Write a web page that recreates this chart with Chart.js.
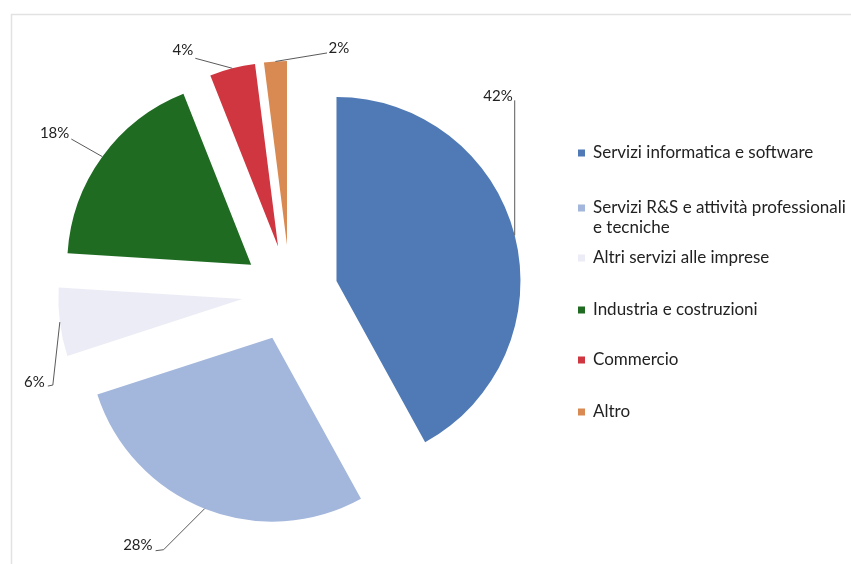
<!DOCTYPE html>
<html>
<head>
<meta charset="utf-8">
<script src="https://cdn.jsdelivr.net/npm/chart.js@4"></script>
<style>
  html, body { margin: 0; padding: 0; background: #ffffff; }
  #wrap { width: 851px; height: 564px; }
</style>
</head>
<body>
<div id="wrap"><canvas id="c" width="851" height="564"></canvas></div>
<script>
// ---- data ----
const categories = [
  'Servizi informatica e software',
  ['Servizi R&S e attività professionali', 'e tecniche'],
  'Altri servizi alle imprese',
  'Industria e costruzioni',
  'Commercio',
  'Altro'
];
const shares = [42, 28, 6, 18, 4, 2];
const sliceColors = ['#4F7AB6', '#A3B6DB', '#ECECF6', '#1F6B22', '#D0363F', '#D98A52'];

// ---- style ----
const EXPLODE = 48;
const TEXT_COLOR = '#222222';
const LINE_COLOR = '#5a5a5a';
const LABEL_FONT = '15px Lato';
const LEGEND_FONT = '17px Lato';
const labelLayout = [
  { path: [[0, -135]], text: [-2, -139], align: 'right' },
  { path: [[-41, 41], [-49, 42]], text: [-52, 36], align: 'right' },
  { path: [[-7, 63], [-12, 64]], text: [-15, 60], align: 'right' },
  { path: [[-31, -17.6]], text: [-33, -23.6], align: 'right' },
  { path: [[-37, -10]], text: [-39, -18], align: 'right' },
  { path: [[51.6, -8.5]], text: [53, -13.5], align: 'left' }
];
const legendBox = { x: 578, textX: 593, size: 7, lineHeight: 20 };
const legendRowsY = [153, 208, 258, 310, 360, 412];

const explodePlugin = {
  id: 'explodePie',
  beforeDraw(chart) {
    const ctx = chart.ctx;
    ctx.save();
    ctx.fillStyle = '#ffffff';
    ctx.fillRect(0, 0, chart.width, chart.height);
    ctx.strokeStyle = '#e2e2e2';
    ctx.lineWidth = 1.5;
    ctx.beginPath();
    ctx.moveTo(11.5, chart.height);
    ctx.lineTo(11.5, 14.5);
    ctx.lineTo(chart.width, 14.5);
    ctx.stroke();
    ctx.restore();
  },
  beforeDatasetsDraw(chart) {
    const ctx = chart.ctx;
    const meta = chart.getDatasetMeta(0);
    meta.data.forEach((arc) => {
      const mid = (arc.startAngle + arc.endAngle) / 2;
      ctx.save();
      ctx.translate(Math.cos(mid) * EXPLODE, Math.sin(mid) * EXPLODE);
      arc.draw(ctx);
      ctx.restore();
    });
    return false;
  },
  afterDraw(chart) {
    const ctx = chart.ctx;
    const meta = chart.getDatasetMeta(0);
    ctx.save();
    // data labels with leader lines
    meta.data.forEach((arc, i) => {
      const mid = (arc.startAngle + arc.endAngle) / 2;
      const rr = arc.outerRadius + EXPLODE;
      const ax = arc.x + Math.cos(mid) * rr;
      const ay = arc.y + Math.sin(mid) * rr;
      const lay = labelLayout[i];
      ctx.strokeStyle = LINE_COLOR;
      ctx.lineWidth = 1;
      ctx.beginPath();
      ctx.moveTo(ax, ay);
      lay.path.forEach(p => ctx.lineTo(ax + p[0], ay + p[1]));
      ctx.stroke();
      ctx.fillStyle = TEXT_COLOR;
      ctx.font = LABEL_FONT;
      ctx.textAlign = lay.align;
      ctx.textBaseline = 'middle';
      ctx.fillText(shares[i] + '%', ax + lay.text[0], ay + lay.text[1]);
    });
    // legend
    ctx.font = LEGEND_FONT;
    ctx.textAlign = 'left';
    ctx.textBaseline = 'middle';
    chart.data.labels.forEach((lab, i) => {
      const y = legendRowsY[i];
      ctx.fillStyle = sliceColors[i];
      ctx.fillRect(legendBox.x, y - legendBox.size / 2, legendBox.size, legendBox.size);
      ctx.fillStyle = TEXT_COLOR;
      const lines = Array.isArray(lab) ? lab : [lab];
      lines.forEach((t, k) => ctx.fillText(t, legendBox.textX, y + k * legendBox.lineHeight));
    });
    ctx.restore();
  }
};

new Chart(document.getElementById('c'), {
  type: 'pie',
  data: {
    labels: categories,
    datasets: [{
      data: shares,
      backgroundColor: sliceColors,
      borderWidth: 0,
      radius: 184
    }]
  },
  options: {
    responsive: false,
    animation: false,
    layout: { padding: { left: 0, right: 271, top: 22, bottom: 0 } },
    plugins: {
      legend: { display: false },
      tooltip: { enabled: false }
    }
  },
  plugins: [explodePlugin]
});
</script>
</body>
</html>
